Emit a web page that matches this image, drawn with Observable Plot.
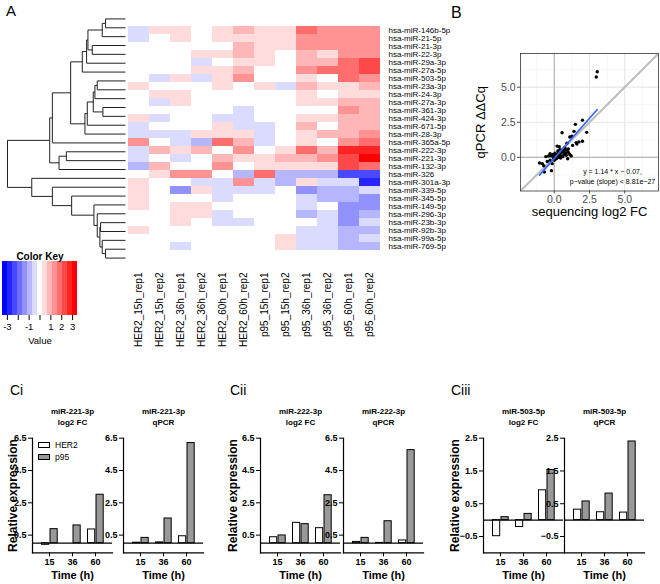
<!DOCTYPE html>
<html><head><meta charset="utf-8">
<script src="https://cdn.jsdelivr.net/npm/d3@7"></script>
<script src="https://cdn.jsdelivr.net/npm/@observablehq/plot@0.6"></script>
<style>
html,body{margin:0;padding:0;background:#fff;}
#fig{position:relative;width:660px;height:584px;overflow:hidden;font-family:"Liberation Sans",Arial,sans-serif;color:#000;}
#fig > div.p{position:absolute;}
.lab{position:absolute;font-size:15px;line-height:1;}
.leg{position:absolute;font-size:8.5px;line-height:1;display:flex;align-items:center;gap:4px;font-family:"Liberation Sans",Arial,sans-serif;}
.leg i{display:inline-block;width:10px;height:4px;border:1px solid #000;}
</style></head>
<body><div id="fig"></div>
<script>
// ---------------- Panel A data ----------------
const rowNames = ["hsa-miR-146b-5p","hsa-miR-21-5p","hsa-miR-21-3p","hsa-miR-22-3p","hsa-miR-29a-3p","hsa-miR-27a-5p","hsa-miR-503-5p","hsa-miR-23a-3p","hsa-miR-24-3p","hsa-miR-27a-3p","hsa-miR-361-3p","hsa-miR-424-3p","hsa-miR-671-5p","hsa-miR-28-3p","hsa-miR-365a-5p","hsa-miR-222-3p","hsa-miR-221-3p","hsa-miR-132-3p","hsa-miR-326","hsa-miR-301a-3p","hsa-miR-339-5p","hsa-miR-345-5p","hsa-miR-149-5p","hsa-miR-296-3p","hsa-miR-23b-3p","hsa-miR-92b-3p","hsa-miR-99a-5p","hsa-miR-769-5p"];
const colNames = ["HER2_15h_rep1","HER2_15h_rep2","HER2_36h_rep1","HER2_36h_rep2","HER2_60h_rep1","HER2_60h_rep2","p95_15h_rep1","p95_15h_rep2","p95_36h_rep1","p95_36h_rep2","p95_60h_rep1","p95_60h_rep2"];
const heat = [
 [-0.45,0.45,0.45,0,0.45,0.9,0.45,0.45,1.8,1.35,1.35,1.35],
 [-0.45,0,0.45,0,0.45,0.45,0.45,0.45,1.35,1.35,1.35,1.35],
 [0,0,0,0,0,0.9,0.45,0.45,1.35,1.35,1.35,1.35],
 [0,0,0,0.45,0.45,0.9,0.45,0,0.9,0.45,1.35,1.35],
 [0,0,0,-0.45,0,0.45,0.45,0,0.9,0.9,1.8,2.25],
 [0,0,0,0.45,0.45,0.9,0,0,1.35,1.8,1.8,2.25],
 [0,-0.45,0.45,-0.45,0.45,1.35,0,0,0.45,0,1.8,1.35],
 [0.45,0,0,0,0.45,0,0.45,-0.45,0.9,0.45,0.45,0.9],
 [0,0.45,0.45,0,0,0,0,0,0.45,0,0.45,0.45],
 [0,-0.45,0.45,0,0,0,0,0,0.45,0.45,0.9,0.9],
 [0,0,0,0,0,-0.45,0,0,0,0,1.35,0.9],
 [0.45,-0.45,0,0,-0.45,-0.45,0,0,0.45,0.45,0.9,0.9],
 [-0.45,0,0,0,0.45,-0.45,-0.45,0,0.9,0,0.9,0.9],
 [-0.45,-0.45,-0.45,0.45,0.45,0.45,-0.45,0,0.45,0.9,0.9,1.35],
 [1.35,0,-0.45,-0.9,1.8,0.9,-0.45,0,0.45,0,1.35,1.8],
 [-0.45,0.9,0.45,0.9,0,1.35,0,0.45,1.8,0.9,2.7,2.7],
 [-0.45,0,-0.45,0,0.9,0.45,0.45,0.9,0.9,1.35,2.25,3.2],
 [-0.9,0.9,0,0,1.35,0,0.45,0.45,0.45,0.45,2.25,1.8],
 [0,0.45,1.35,1.35,0,-0.9,1.8,-0.9,-0.9,-0.9,-2.25,-2.25],
 [0.45,0,0,-0.45,-0.45,1.35,-0.45,-0.9,0.45,-0.45,-0.45,-2.7],
 [0.45,0,-1.35,0.45,-0.45,-0.45,-0.45,0,-1.35,-0.9,-0.9,-0.45],
 [0.45,0,0,0,-0.45,0,0,0,-0.45,-0.9,-0.9,-1.35],
 [0.45,0,0.45,0.45,0,0,0,0,-0.45,0,-1.35,-1.35],
 [0,0,0.45,0.45,-0.45,0,0,0,-0.9,-0.45,-1.35,-0.9],
 [0,0,0.45,0,-0.45,-0.45,0,0,0,-0.45,-1.35,-0.45],
 [0.45,0,0,0,0,0,0,0,-0.45,-0.45,-0.9,-0.9],
 [0,0,0,0,0,0,0,0.45,-0.45,-0.45,-0.9,-0.45],
 [0,0,-0.45,0,0,0,0,0.45,-0.45,-0.45,-0.9,-0.9]
];
// row dendrogram: [mergeHeight, left, right]; leaves = row numbers (1-based)
const rowTree = [355,
  [228,
    [220,
      [165,
        [130,[117,[113,[70,[60,1,2],3],[100,4,5]],6],7],
        [122,[115,[97,[92,[85,8,9],10],[68,11,12]],13],14]],
      15],
    [200,[178,16,17],18]],
  [282, 19, [220, 20, [162, 21, [95, 22, [85, 23, [77, [75, 24, 25], [70, 26, [60, 27, 28]]]]]]]]
];
const keyMax = 3.45;
const keyTicks = [-3,-2,-1,0,1,2,3];
const keyTickLabels = ["-3","","-1","","1","2","3"];

// ---------------- Panel B data ----------------
const seqFC =  [3.05,2.98,2.0,1.5,2.3,1.4,0.55,1.1,1.25,2.0,1.55,1.75,1.6,1.3,0.9,1.0,0.35,0.2,
  0.0,0.1,0.2,0.3,0.4,0.5,0.6,0.7,0.8,0.9,1.0,0.5,0.6,0.3,0.45,-0.1,-0.2,-0.3,0.15,0.05,0.7,0.85,1.1,1.2,0.95,0.25,0.4,0.65,0.75,0.55,-0.4,0.0,-0.05,0.35,0.8,
  -1.05,-0.85,-0.7,-0.2,-0.5,-0.6,-0.3,-0.15,-0.75];
const qpcrDD = [6.1,5.72,2.65,2.35,1.78,1.85,1.75,1.45,1.5,1.15,1.05,1.1,0.95,0.85,1.0,0.6,0.75,0.8,
  0.1,0.2,0.15,0.3,0.25,0.35,0.4,0.45,0.3,0.5,0.35,0.1,0.05,0.0,-0.05,0.2,0.1,0.25,-0.1,0.3,0.2,0.15,0.2,0.1,-0.1,0.45,0.55,0.6,0.7,0.5,0.1,-0.2,-0.05,0.15,0.55,
  -0.4,-0.45,-1.05,-0.95,-0.3,0.05,-0.2,-0.45,-0.6];
const fitSlope = 1.14, fitIntercept = -0.07;
const fitText = "y = 1.14 * x \u2212 0.07,\np\u2212value (slope) < 8.81e\u221227";

// ---------------- Panel C data ----------------
const times = ["15","36","60"];
const groups = ["HER2","p95"];
const mir221_fc_her2 = [-0.1, 0.0, 0.85], mir221_fc_p95 = [0.87, 1.1, 3.0];
const mir221_q_her2 = [0.03, 0.05, 0.43], mir221_q_p95 = [0.33, 1.53, 6.2];
const mir222_fc_her2 = [0.37, 1.26, 0.93], mir222_fc_p95 = [0.48, 1.18, 2.97];
const mir222_q_her2 = [0.08, 0.02, 0.17], mir222_q_p95 = [0.33, 1.36, 5.76];
const mir503_fc_her2 = [-0.49, -0.21, 0.91], mir503_fc_p95 = [0.09, 0.19, 1.53];
const mir503_q_her2 = [0.32, 0.24, 0.23], mir503_q_p95 = [0.57, 0.81, 2.4];

// ---------------- helpers ----------------
const FONT = '"Liberation Sans", Arial, sans-serif';
const fig = document.getElementById("fig");
function place(node, left, top) {
  const d = document.createElement("div");
  d.className = "p"; d.style.left = left + "px"; d.style.top = top + "px";
  d.appendChild(node); fig.appendChild(d); return d;
}
function label(text, left, top, size) {
  const d = document.createElement("div");
  d.className = "lab"; d.textContent = text;
  d.style.left = left + "px"; d.style.top = top + "px";
  if (size) d.style.fontSize = size + "px";
  fig.appendChild(d);
}
const baseStyle = {fontFamily: FONT, background: "transparent", overflow: "visible", color: "black"};

// colour bins (gplots bluered, 15 bins, symmetric breaks)
const breaks = d3.range(16).map(i => -keyMax + i * 2 * keyMax / 15);
const binColors = [
  ...d3.range(8).map(i => { const v = Math.round(255 * i / 7); return `rgb(${v},${v},255)`; }),
  ...d3.range(1, 8).map(i => { const v = Math.round(255 * (1 - i / 7)); return `rgb(255,${v},${v})`; })
];
const colorScale = {type: "threshold", domain: breaks.slice(1, 15), range: binColors};

// ---------------- Dendrogram ----------------
const segs = [];
function lay(node) {
  if (typeof node === "number") return {y: node, h: 0};
  const [h, a, b] = node;
  const la = lay(a), lb = lay(b);
  segs.push({x1: la.h, y1: la.y, x2: h, y2: la.y});
  segs.push({x1: lb.h, y1: lb.y, x2: h, y2: lb.y});
  segs.push({x1: h, y1: la.y, x2: h, y2: lb.y});
  return {y: (la.y + lb.y) / 2, h};
}
lay(rowTree);
place(Plot.plot({
  width: 128, height: 270, marginLeft: 7, marginRight: 3, marginTop: 14, marginBottom: 8,
  x: {domain: [rowTree[0], 0], axis: null},
  y: {domain: [0.5, rowNames.length + 0.5], reverse: true, axis: null},
  style: baseStyle,
  marks: [Plot.link(segs, {x1: "x1", y1: "y1", x2: "x2", y2: "y2", stroke: "#222", strokeWidth: 1})]
}), 0, 0);

// ---------------- Heatmap ----------------
const cells = rowNames.flatMap((r, i) => colNames.map((c, j) => ({row: r, col: c, value: heat[i][j]})));
place(Plot.plot({
  width: 344, height: 352, marginLeft: 0, marginRight: 92, marginTop: 14, marginBottom: 90,
  x: {domain: colNames, padding: 0},
  y: {domain: rowNames, padding: 0},
  color: colorScale,
  style: baseStyle,
  marks: [
    Plot.cell(cells, {x: "col", y: "row", fill: "value"}),
    Plot.axisY({anchor: "right", tickSize: 0, tickPadding: 8, fontSize: 8, fill: "black", label: null}),
    Plot.axisX({anchor: "bottom", tickSize: 0, tickPadding: 10, tickRotate: -90, fontSize: 10, fill: "black", label: null})
  ]
}), 128, 0);

// ---------------- Color key ----------------
const keyBins = d3.range(15).map(i => ({x1: breaks[i], x2: breaks[i + 1], mid: (breaks[i] + breaks[i + 1]) / 2}));
place(Plot.plot({
  width: 90, height: 115, marginLeft: 2, marginRight: 13, marginTop: 21, marginBottom: 40,
  x: {domain: [-keyMax, keyMax]},
  y: {domain: [0, 1], axis: null},
  color: colorScale,
  style: baseStyle,
  marks: [
    Plot.rect(keyBins, {x1: "x1", x2: "x2", y1: 0, y2: 1, fill: "mid"}),
    Plot.axisX({ticks: keyTicks, tickFormat: (d) => keyTickLabels[keyTicks.indexOf(d)], tickSize: 5, tickPadding: 3, fontSize: 9.5, fill: "black", label: null}),
    Plot.text(["Color Key"], {frameAnchor: "top", dy: -9, fontWeight: "bold", fontSize: 10, fill: "black"}),
    Plot.text(["Value"], {frameAnchor: "bottom", dy: 28, fontSize: 9.5, fill: "black"})
  ]
}), 0, 240);

// ---------------- Panel B ----------------
const pts = seqFC.map((x, i) => ({x, y: qpcrDD[i]}));
const fitX = d3.extent(seqFC);
const bDom = [-2.4, 7.4];
place(Plot.plot({
  width: 220, height: 240, marginLeft: 80, marginRight: 2, marginTop: 53, marginBottom: 49.5,
  x: {domain: bDom}, y: {domain: bDom},
  style: baseStyle,
  marks: [
    Plot.gridX([-1.25, 1.25, 3.75, 6.25], {stroke: "#F0F0F0", strokeOpacity: 1, strokeWidth: 0.6}),
    Plot.gridY([-1.25, 1.25, 3.75, 6.25], {stroke: "#F0F0F0", strokeOpacity: 1, strokeWidth: 0.6}),
    Plot.gridX([0, 2.5, 5], {stroke: "#E6E6E6", strokeOpacity: 1, strokeWidth: 1.1}),
    Plot.gridY([0, 2.5, 5], {stroke: "#E6E6E6", strokeOpacity: 1, strokeWidth: 1.1}),
    Plot.ruleX([0], {stroke: "#B8B8B8", strokeWidth: 1.2}),
    Plot.ruleY([0], {stroke: "#B8B8B8", strokeWidth: 1.2}),
    Plot.line(bDom, {x: d => d, y: d => d, stroke: "#BDBDBD", strokeWidth: 2, clip: true}),
    Plot.dot(pts, {x: "x", y: "y", r: 1.7, fill: "black", stroke: null}),
    Plot.line(fitX, {x: d => d, y: d => fitSlope * d + fitIntercept, stroke: "#3366FF", strokeWidth: 1.6}),
    Plot.frame({stroke: "#333", strokeWidth: 0.8}),
    Plot.axisX({ticks: [0, 2.5, 5], tickFormat: ".1f", tickSize: 3, tickPadding: 2, fontSize: 10.5, color: "#4D4D4D", label: null}),
    Plot.axisY({ticks: [0, 2.5, 5], tickFormat: ".1f", tickSize: 3, tickPadding: 2, fontSize: 10.5, color: "#4D4D4D", label: null}),
    Plot.text([fitText], {frameAnchor: "bottom-right", dx: -46, dy: -15, textAnchor: "middle", lineAnchor: "middle", fontSize: 7, lineHeight: 1.35, fill: "black"}),
    Plot.text(["qPCR \u0394\u0394Cq"], {frameAnchor: "left", rotate: -90, dx: -40, textAnchor: "middle", fontSize: 13, fill: "black"}),
    Plot.text(["sequencing log2 FC"], {frameAnchor: "bottom", dy: 25, textAnchor: "middle", fontSize: 13, fill: "black"})
  ]
}), 440, 0);

// ---------------- Panel C ----------------
function barChart({panelLeft, axisOff, title, her2, p95, yDomain, yTicks, ylab}) {
  const top = 400;
  const data = times.map((t, i) => ({time: t, HER2: her2[i], p95: p95[i]}));
  const ml = 34;
  const plot = Plot.plot({
    width: ml + 80 + 6, height: 184, marginLeft: ml, marginRight: 6, marginTop: 37.7, marginBottom: 31.6,
    x: {domain: times, paddingInner: 0.05, paddingOuter: 0.23},
    y: {domain: yDomain},
    style: baseStyle,
    marks: [
      Plot.barY(data, {x: "time", y1: 0, y2: "HER2", fill: "white", stroke: "black", strokeWidth: 1, insetLeft: 3.5, insetRight: 11.3}),
      Plot.barY(data, {x: "time", y1: 0, y2: "p95", fill: "#999999", stroke: "black", strokeWidth: 1, insetLeft: 12, insetRight: 2.8}),
      Plot.ruleY([0], {stroke: "black", strokeWidth: 1.2}),
      Plot.frame({anchor: "left", stroke: "black", strokeWidth: 1.2}),
      Plot.frame({anchor: "bottom", stroke: "black", strokeWidth: 1.2}),
      Plot.axisY({ticks: yTicks, tickFormat: ".1f", tickSize: 4, tickPadding: 2, fontSize: 9, fontWeight: "bold", fill: "black", label: null}),
      Plot.axisX({tickSize: 4, tickPadding: 2, fontSize: 9, fontWeight: "bold", fill: "black", label: null}),
      Plot.text([title], {frameAnchor: "top", dy: -22, textAnchor: "middle", lineAnchor: "middle", fontWeight: "bold", fontSize: 8, lineHeight: 1.35, fill: "black"}),
      Plot.text(["Time (h)"], {frameAnchor: "bottom", dy: 25.6, textAnchor: "middle", fontWeight: "bold", fontSize: 11, fill: "black"}),
      ...(ylab ? [Plot.text(["Relative expression"], {frameAnchor: "left", rotate: -90, dx: -ylab, textAnchor: "middle", fontWeight: "bold", fontSize: 12, fill: "black"})] : [])
    ]
  });
  place(plot, panelLeft + axisOff - ml, top);
}
const yC = [-0.6, 6.5], yCt = [0.5, 2.5, 4.5, 6.5];
const yC3 = [-1.0, 2.5], yC3t = [-0.5, 0.5, 1.5, 2.5];
barChart({panelLeft: 0, axisOff: 32, title: "miR-221-3p\nlog2 FC", her2: mir221_fc_her2, p95: mir221_fc_p95, yDomain: yC, yTicks: yCt, ylab: 19});
barChart({panelLeft: 0, axisOff: 123, title: "miR-221-3p\nqPCR", her2: mir221_q_her2, p95: mir221_q_p95, yDomain: yC, yTicks: yCt});
barChart({panelLeft: 220, axisOff: 40, title: "miR-222-3p\nlog2 FC", her2: mir222_fc_her2, p95: mir222_fc_p95, yDomain: yC, yTicks: yCt, ylab: 27});
barChart({panelLeft: 220, axisOff: 123, title: "miR-222-3p\nqPCR", her2: mir222_q_her2, p95: mir222_q_p95, yDomain: yC, yTicks: yCt});
barChart({panelLeft: 440, axisOff: 43, title: "miR-503-5p\nlog2 FC", her2: mir503_fc_her2, p95: mir503_fc_p95, yDomain: yC3, yTicks: yC3t, ylab: 28});
barChart({panelLeft: 440, axisOff: 124, title: "miR-503-5p\nqPCR", her2: mir503_q_her2, p95: mir503_q_p95, yDomain: yC3, yTicks: yC3t});

// legend for panel C
const leg = document.createElement("div");
leg.className = "leg"; leg.style.left = "38px"; leg.style.top = "441px";
leg.style.flexDirection = "column"; leg.style.alignItems = "flex-start"; leg.style.gap = "3px";
leg.innerHTML = groups.map((g, i) => `<span style="display:flex;align-items:center;gap:5px"><i style="background:${i ? "#999" : "#fff"}"></i>${g}</span>`).join("");
fig.appendChild(leg);

// panel letters
label("A", 6, 3);
label("B", 451, 5, 16);
label("Ci", 10, 383, 14);
label("Cii", 230, 383, 14);
label("Ciii", 451, 383, 14);
</script></body></html>
